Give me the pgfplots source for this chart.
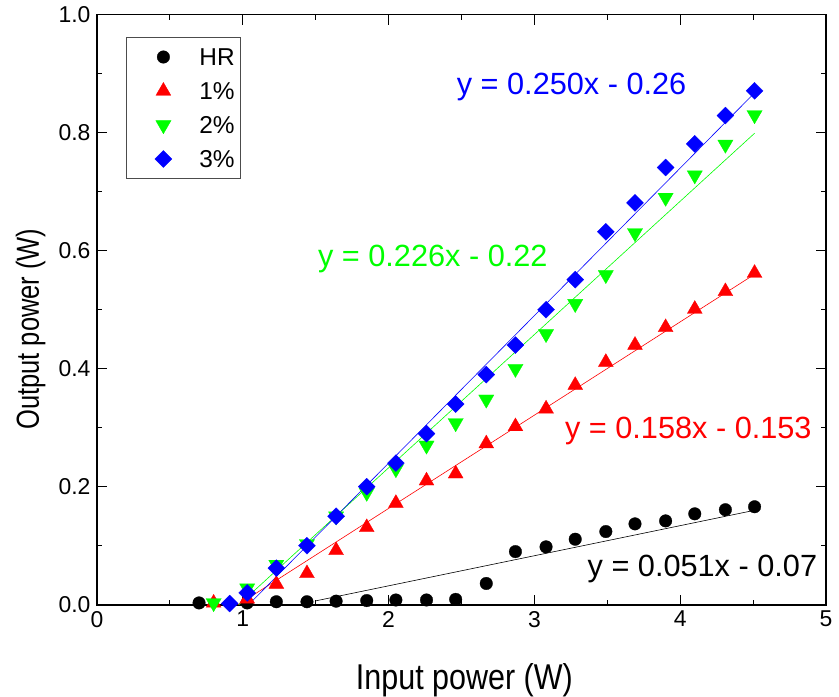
\documentclass[border=0pt]{standalone}
\usepackage{pgfplots}
\pgfplotsset{compat=1.18}
\usepackage{fontspec}
\setmainfont{Liberation Sans}
\newfontfamily\narrowfont{Liberation Sans}[FakeStretch=0.85]
\newfontfamily\narrowfontb{Liberation Sans}[FakeStretch=0.80]
\definecolor{pred}{RGB}{255,0,0}
\definecolor{pgreen}{RGB}{0,255,0}
\definecolor{pblue}{RGB}{0,0,255}

\pgfplotstableread{
x y
0.70 0.003
1.03 0.003
1.23 0.005
1.44 0.005
1.64 0.006
1.85 0.007
2.05 0.008
2.26 0.008
2.46 0.009
2.67 0.036
2.87 0.090
3.08 0.098
3.28 0.111
3.49 0.124
3.69 0.137
3.90 0.142
4.10 0.154
4.31 0.161
4.51 0.166
}\hrdata

\pgfplotstableread{
x y
0.80 0.003
1.03 0.010
1.23 0.035
1.44 0.053
1.64 0.092
1.85 0.131
2.05 0.172
2.26 0.210
2.46 0.222
2.67 0.273
2.87 0.302
3.08 0.332
3.28 0.372
3.49 0.411
3.69 0.440
3.90 0.470
4.10 0.501
4.31 0.531
4.51 0.562
}\onedata

\pgfplotstableread{
x y
0.80 0.003
1.03 0.028
1.23 0.068
1.44 0.103
1.64 0.150
1.85 0.190
2.05 0.230
2.26 0.270
2.46 0.308
2.67 0.348
2.87 0.400
3.08 0.459
3.28 0.510
3.49 0.559
3.69 0.630
3.90 0.690
4.10 0.728
4.31 0.780
4.51 0.830
}\twodata

\pgfplotstableread{
x y
0.91 0.002
1.03 0.020
1.23 0.062
1.44 0.100
1.64 0.150
1.85 0.200
2.05 0.240
2.26 0.290
2.46 0.340
2.67 0.390
2.87 0.440
3.08 0.500
3.28 0.551
3.49 0.632
3.69 0.681
3.90 0.741
4.10 0.781
4.31 0.829
4.51 0.871
}\threedata

\begin{document}
\begin{tikzpicture}
\useasboundingbox (-97bp,-92.3bp) rectangle (742bp,604.7bp);
\begin{axis}[
  at={(0,0)}, anchor=south west,
  scale only axis, width=729bp, height=590bp,
  xmin=0, xmax=5, ymin=0, ymax=1,
  xtick={0,1,2,3,4,5},
  minor xtick={0.5,1.5,2.5,3.5,4.5},
  ytick={0,0.2,0.4,0.6,0.8,1.0},
  minor ytick={0.1,0.3,0.5,0.7,0.9},
  tick align=inside,
  xtick pos=both, ytick pos=both,
  xticklabel pos=bottom, yticklabel pos=left,
  major tick length=10bp, minor tick length=5bp,
  axis line style={line width=1.6bp},
  every tick/.style={line width=1.2bp, black},
  /pgf/number format/assume math mode=true,
  tick label style={font=\fontsize{23}{27}\selectfont},
  yticklabel style={xshift=-3bp, /pgf/number format/.cd, fixed, fixed zerofill, precision=1},
  xticklabel style={yshift=-3bp},
  xlabel={Input power (W)},
  ylabel={Output power (W)},
  xlabel style={font=\narrowfont\fontsize{36}{40}\selectfont, at={(axis description cs:0.504,-0.1429)}, anchor=base, inner sep=0pt},
  ylabel style={font=\narrowfontb\fontsize{32}{36}\selectfont, at={(axis description cs:-0.0796,0.467)}, anchor=base, rotate=0, inner sep=0pt},
  legend image code/.code={\path[draw=none, fill=none] (0bp,0bp) (67bp,0bp); \draw[mark repeat=2, mark phase=2, #1] plot coordinates {(0bp,0bp) (33bp,0bp) (66bp,0bp)};},
  legend style={at={(rel axis cs:0.0398,0.962)}, anchor=north west,
    draw=black!70, line width=0.8bp,
    font=\fontsize{24.5}{28}\selectfont,
    inner xsep=4bp, inner ysep=9bp, row sep=13bp,
    nodes={inner sep=2bp, text height=17bp, text depth=0bp}},
  legend cell align=left,
]
% fit lines
\addplot[forget plot, black, line width=0.6bp] coordinates {(1.50,0.0065) (4.51,0.160)};
\addplot[forget plot, pred, line width=0.6bp] coordinates {(0.968,0.0) (4.51,0.560)};
\addplot[forget plot, pgreen, line width=0.6bp] coordinates {(0.973,0.0) (4.51,0.799)};
\addplot[forget plot, pblue, line width=0.6bp] coordinates {(1.04,0.0) (4.51,0.8675)};
% data
\addplot[only marks, mark=*, mark size=6.3bp, mark options={draw=black, fill=black, line width=0.3bp}] table[x=x,y=y] {\hrdata};
\addlegendentry{HR}
\addplot[only marks, mark=triangle*, mark size=8.6bp, mark options={draw=pred, fill=pred, line width=0.3bp}] table[x=x,y=y] {\onedata};
\addlegendentry{1\%}
\addplot[only marks, mark=triangle*, mark size=8.8bp, mark options={draw=pgreen, fill=pgreen, line width=0.3bp, rotate=180}] table[x=x,y=y] {\twodata};
\addlegendentry{2\%}
\addplot[only marks, mark=square*, mark size=6bp, mark options={draw=pblue, fill=pblue, line width=0.3bp, rotate=45}] table[x=x,y=y] {\threedata};
\addlegendentry{3\%}
% equations
\node[anchor=base west, inner sep=0pt, text=pblue, font=\fontsize{30.8}{35}\selectfont] at (axis cs:2.467,0.864) {y = 0.250x - 0.26};
\node[anchor=base west, inner sep=0pt, text=pgreen, font=\fontsize{30.8}{35}\selectfont] at (axis cs:1.515,0.574) {y = 0.226x - 0.22};
\node[anchor=base west, inner sep=0pt, text=pred, font=\fontsize{30.8}{35}\selectfont] at (axis cs:3.209,0.282) {y = 0.158x - 0.153};
\node[anchor=base west, inner sep=0pt, text=black, font=\fontsize{30.8}{35}\selectfont] at (axis cs:3.364,0.0475) {y = 0.051x - 0.07};
\end{axis}
\end{tikzpicture}
\end{document}
